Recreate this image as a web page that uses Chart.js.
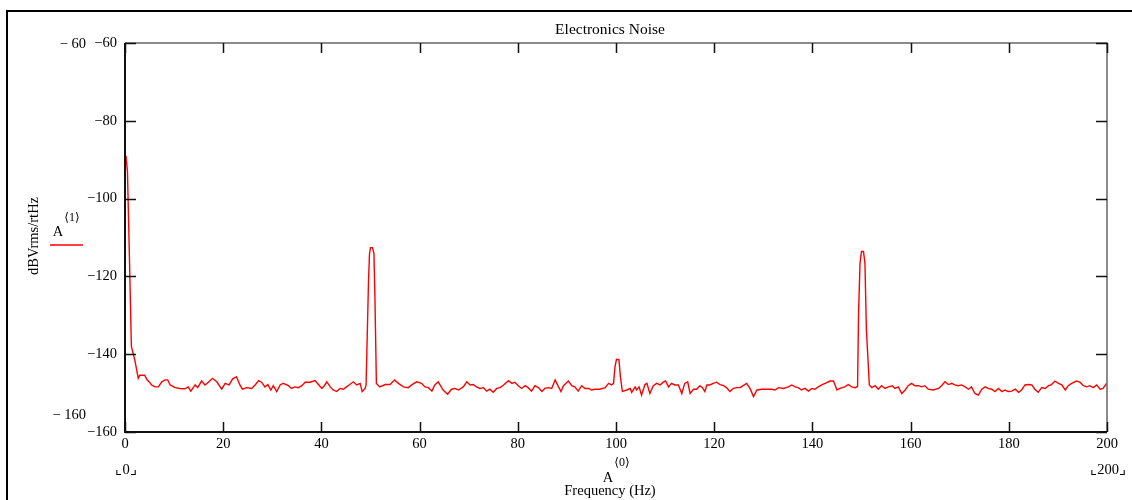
<!DOCTYPE html>
<html>
<head>
<meta charset="utf-8">
<script src="https://cdn.jsdelivr.net/npm/chart.js@4.4.0/dist/chart.umd.min.js"></script>
<style>
  body { margin: 0; background: #fff; }
  #wrap { width: 1132px; height: 500px; position: relative; }
</style>
</head>
<body>
<div id="wrap"><canvas id="noiseChart" width="1132" height="500"></canvas></div>
<script>
// spectrum (Hz, dBVrms/rtHz)
const freq = [
  0.2, 0.5, 0.9, 1.3, 2.0, 2.7, 3.0, 4.0, 4.5, 5.0, 5.4, 6.1, 6.8, 7.5, 8.2, 8.7, 9.2, 10.2, 11.2, 12.2,
  12.9, 13.4, 14.3, 14.8, 15.6, 16.3, 17.0, 17.8, 18.7, 19.7, 20.4, 21.2, 21.9, 22.7, 23.4, 23.9, 24.8, 25.8, 26.5, 27.2,
  27.8, 28.5, 29.1, 29.7, 30.2, 30.9, 31.6, 32.2, 33.3, 33.9, 34.6, 35.3, 36.0, 36.7, 37.7, 38.7, 39.4, 40.1, 40.6, 41.1,
  41.8, 42.4, 43.1, 43.8, 44.5, 45.1, 45.8, 46.5, 47.2, 47.9, 48.3, 48.9,
  49.1, 49.6, 49.8, 50.0, 50.4, 50.7, 50.9, 51.2,
  51.9, 53.0, 54.0, 54.9, 55.7, 56.7, 57.7, 58.4, 59.4, 60.4, 61.1, 61.8, 62.5, 63.1, 63.8, 64.8, 65.7, 66.5, 67.2, 67.9,
  68.9, 69.6, 70.3, 70.9, 71.6, 72.3, 73.0, 73.7, 74.3, 75.0, 75.7, 76.4, 77.1, 78.1, 78.8, 79.4, 80.1, 80.8, 81.5, 82.1,
  82.8, 83.5, 84.2, 84.9, 85.5, 86.2, 86.9, 87.6, 88.3, 88.8, 89.3, 90.3, 91.0, 91.6, 92.3, 93.0, 93.7, 94.5, 95.0, 95.7,
  96.7, 97.8, 98.5, 99.1,
  99.5, 99.8, 100.1, 100.6, 100.9, 101.3,
  101.5, 102.2, 102.9, 103.2, 103.9, 104.2, 104.7, 105.2, 105.9, 106.3, 106.9, 107.6, 108.3, 109.0, 109.6, 110.1, 110.7, 111.3, 112.0, 112.7,
  113.4, 114.0, 114.6, 115.1, 115.8, 116.4, 117.1, 117.6, 118.1, 118.5, 119.1, 119.8, 120.5, 121.2, 121.9, 122.5, 123.2, 123.9, 124.6, 125.3,
  125.9, 126.6, 127.3, 128.0, 128.7, 129.7, 130.7, 131.7, 132.4, 133.1, 134.1, 135.1, 135.8, 136.5, 137.1, 137.8, 138.5, 139.2, 139.9, 140.5,
  141.2, 141.9, 142.6, 143.6, 144.3, 145.0, 145.6, 146.6, 147.3, 148.0, 148.7,
  149.2, 149.4, 149.7, 150.0, 150.4, 150.7, 151.0, 151.6,
  152.1, 152.8, 153.4, 154.1, 154.8, 155.5, 156.3, 156.8, 157.5, 158.2, 158.9, 159.5, 160.2, 160.9, 161.6, 162.3, 162.9, 163.6, 164.6, 165.7,
  166.3, 167.0, 167.7, 168.4, 169.0, 169.7, 170.4, 171.1, 171.8, 172.4, 173.1, 173.8, 174.5, 175.2, 175.8, 176.5, 177.2, 177.9, 178.6, 179.2,
  179.9, 180.6, 181.3, 182.0, 182.6, 183.3, 184.0, 184.7, 185.3, 186.0, 186.7, 187.4, 188.1, 188.7, 189.4, 190.1, 190.8, 191.5, 192.1, 192.8,
  193.8, 194.5, 195.2, 195.9, 196.5, 197.2, 197.9, 198.6, 199.2, 199.9
];
const level = [
  -89.0, -93.0, -115.0, -138.0, -141.5, -146.2, -145.4, -145.4, -146.6, -147.2, -147.9, -148.4, -148.4, -147.1, -146.6, -146.6, -147.9, -148.6, -148.8, -148.9,
  -148.4, -149.5, -147.9, -148.6, -146.9, -147.9, -147.2, -146.2, -147.1, -149.0, -147.5, -147.9, -146.4, -145.8, -147.9, -149.0, -148.6, -148.8, -147.9, -146.8,
  -147.2, -148.4, -147.8, -149.2, -148.1, -149.6, -147.9, -147.5, -148.1, -148.8, -148.4, -148.6, -148.1, -147.2, -147.2, -146.8, -147.8, -148.8, -148.1, -147.1,
  -148.4, -149.2, -149.6, -148.8, -149.0, -148.4, -147.8, -147.1, -147.9, -147.5, -149.6, -148.8,
  -147.9, -120.9, -114.1, -112.6, -112.6, -114.1, -125.2, -147.5,
  -148.4, -147.8, -147.8, -146.6, -147.5, -148.4, -148.6, -147.9, -147.1, -147.5, -148.4, -148.6, -149.5, -147.9, -147.1, -149.2, -150.3, -149.0, -148.8, -149.2,
  -148.4, -147.1, -147.9, -147.8, -148.4, -148.8, -148.6, -149.5, -149.0, -149.8, -148.8, -148.6, -147.9, -146.8, -147.5, -147.2, -148.1, -148.8, -148.1, -148.6,
  -149.5, -148.1, -148.6, -149.6, -148.8, -148.6, -148.8, -146.6, -148.4, -149.6, -148.1, -146.9, -148.1, -148.4, -149.5, -148.1, -148.8, -148.8, -149.2, -149.0,
  -149.0, -148.6, -147.5, -147.9,
  -147.5, -143.2, -141.3, -141.4, -145.8, -149.6,
  -149.5, -149.2, -148.8, -149.8, -148.4, -149.2, -148.4, -150.5, -147.8, -147.5, -150.1, -148.1, -147.5, -147.9, -147.2, -146.9, -148.4, -147.5, -147.9, -147.9,
  -150.1, -147.5, -147.1, -150.1, -149.0, -149.0, -148.1, -148.6, -149.6, -147.9, -147.9, -147.5, -147.2, -147.8, -148.1, -148.6, -149.6, -148.8, -148.6, -148.6,
  -148.1, -147.5, -148.8, -150.9, -149.2, -149.0, -149.0, -149.0, -149.2, -148.6, -148.8, -148.4, -147.9, -148.4, -148.6, -149.2, -148.8, -149.5, -148.8, -149.0,
  -148.4, -147.9, -147.5, -146.9, -146.9, -149.2, -148.8, -148.4, -147.8, -148.4, -148.6,
  -148.3, -129.5, -116.6, -113.6, -113.6, -116.6, -133.8, -147.9,
  -148.6, -148.1, -149.0, -148.1, -148.8, -148.4, -148.1, -148.8, -148.4, -150.1, -149.2, -148.1, -147.5, -148.1, -148.1, -148.4, -148.1, -149.0, -149.2, -148.8,
  -148.1, -147.1, -147.8, -147.5, -147.9, -148.1, -147.9, -148.4, -149.0, -148.4, -150.1, -150.5, -149.0, -148.4, -148.8, -149.0, -149.6, -148.8, -149.6, -149.2,
  -149.6, -149.5, -149.0, -149.8, -149.2, -147.9, -147.8, -147.9, -149.0, -149.8, -148.6, -148.8, -148.1, -147.8, -146.9, -147.5, -147.9, -149.2, -148.1, -147.5,
  -146.9, -147.2, -148.1, -148.4, -148.1, -148.6, -147.9, -149.0, -148.8, -147.5
];
const xTicks = [0, 20, 40, 60, 80, 100, 120, 140, 160, 180, 200];
const yTicks = [-160, -140, -120, -100, -80, -60];

const serif = "'Liberation Serif', 'DejaVu Serif', serif";
const minus = v => (v < 0 ? '\u2212' : '') + Math.abs(v);

// frame, axes, inside ticks and the Mathcad-style labels
const decor = {
  id: 'decor',
  afterDraw(chart) {
    const c = chart.ctx;
    const a = chart.chartArea;
    const xs = chart.scales.x, ys = chart.scales.y;
    c.save();

    // outer frame
    c.strokeStyle = '#000';
    c.lineWidth = 2;
    c.beginPath();
    c.moveTo(1140, 11); c.lineTo(7, 11); c.lineTo(7, 510);
    c.stroke();

    // plot box
    c.strokeStyle = '#666';
    c.lineWidth = 1.5;
    c.beginPath();
    c.moveTo(a.left, a.top); c.lineTo(a.right, a.top); c.lineTo(a.right, a.bottom);
    c.stroke();
    c.strokeStyle = '#111';
    c.lineWidth = 2;
    c.beginPath();
    c.moveTo(a.left, a.top); c.lineTo(a.left, a.bottom); c.lineTo(a.right, a.bottom);
    c.stroke();

    // ticks pointing inward
    c.lineWidth = 1.5;
    c.strokeStyle = '#111';
    xTicks.forEach(v => {
      const px = Math.round(xs.getPixelForValue(v)) + 0.5;
      c.beginPath();
      c.moveTo(px, a.bottom); c.lineTo(px, a.bottom - 10);
      c.moveTo(px, a.top); c.lineTo(px, a.top + 10);
      c.stroke();
    });
    yTicks.forEach(v => {
      const py = Math.round(ys.getPixelForValue(v)) + 0.5;
      c.beginPath();
      c.moveTo(a.left, py); c.lineTo(a.left + 11, py);
      c.moveTo(a.right, py); c.lineTo(a.right - 11, py);
      c.stroke();
    });

    c.fillStyle = '#000';
    c.textBaseline = 'middle';

    // title
    c.font = '15.5px ' + serif;
    c.textAlign = 'center';
    c.fillText('Electronics Noise', 610, 30);

    // y limits echoed on the left
    c.font = '14.5px ' + serif;
    c.textAlign = 'right';
    c.fillText('\u2212 60', 86, 44);
    c.fillText('\u2212 160', 86, 415);

    // x limits echoed below
    c.textAlign = 'center';
    c.fillText('\u231E0\u231F', a.left + 1, 470);
    c.fillText('\u231E200\u231F', a.right + 1, 470);

    // x axis name
    c.fillText('A', 608, 478);
    c.font = '12px ' + serif;
    c.fillText('\u27E80\u27E9', 622, 463);
    c.font = '14.5px ' + serif;
    c.fillText('Frequency (Hz)', 610, 491);

    // legend entry
    c.fillText('A', 58, 232);
    c.font = '12px ' + serif;
    c.fillText('\u27E81\u27E9', 72, 218);
    c.strokeStyle = '#ff0000';
    c.lineWidth = 1.5;
    c.beginPath();
    c.moveTo(50, 245); c.lineTo(83, 245);
    c.stroke();

    // y axis name
    c.font = '14.5px ' + serif;
    c.translate(34, 236);
    c.rotate(-Math.PI / 2);
    c.fillText('dBVrms/rtHz', 0, 0);

    c.restore();
  }
};

const ctx = document.getElementById('noiseChart').getContext('2d');
const noiseChart = new Chart(ctx, {
  type: 'line',
  data: {
    datasets: [{
      label: 'A<1>',
      data: freq.map((f, i) => ({ x: f, y: level[i] })),
      borderColor: '#ff0000',
      borderWidth: 1.4,
      pointRadius: 0,
      tension: 0,
      fill: false
    }]
  },
  options: {
    responsive: false,
    animation: false,
    layout: { padding: { left: 0, top: 43, right: 25, bottom: 0 } },
    plugins: { legend: { display: false }, title: { display: false }, tooltip: { enabled: false } },
    scales: {
      x: {
        type: 'linear',
        min: 0,
        max: 200,
        afterFit: s => { s.height = 68; },
        afterBuildTicks: s => { s.ticks = xTicks.map(v => ({ value: v })); },
        grid: { display: false, drawTicks: false },
        border: { display: false },
        ticks: { color: '#000', padding: 3, maxRotation: 0, font: { family: serif, size: 14.5 } }
      },
      y: {
        min: -160,
        max: -60,
        afterFit: s => { s.width = 125; },
        afterBuildTicks: s => { s.ticks = yTicks.map(v => ({ value: v })); },
        grid: { display: false, drawTicks: false },
        border: { display: false },
        ticks: { color: '#000', padding: 8, font: { family: serif, size: 14.5 }, callback: v => minus(v) }
      }
    }
  },
  plugins: [decor]
});
</script>
</body>
</html>
